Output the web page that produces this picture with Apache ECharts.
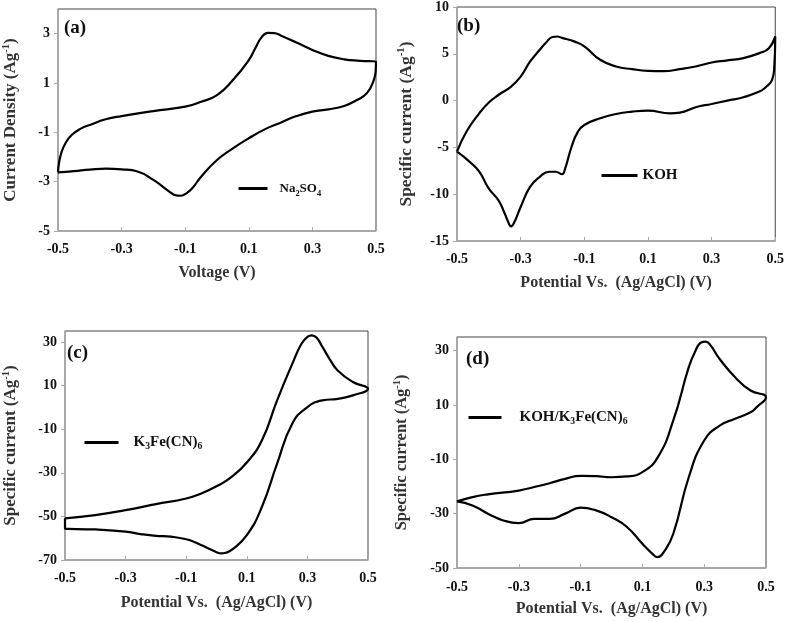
<!DOCTYPE html>
<html><head><meta charset="utf-8">
<script src="https://cdn.jsdelivr.net/npm/echarts@6/dist/echarts.min.js"></script>
<style>html,body{margin:0;padding:0;background:#fff}#c{width:787px;height:622px}</style>
</head><body><div id="c"></div>
<script>
// ---- tick labels ----
const xTicks = [-0.5, -0.3, -0.1, 0.1, 0.3, 0.5];
const yTicksA = [-5, -3, -1, 1, 3];
const yTicksB = [-15, -10, -5, 0, 5, 10];
const yTicksC = [-70, -50, -30, -10, 10, 30];
const yTicksD = [-50, -30, -10, 10, 30];

// ---- (a) Na2SO4 ----
const potA = [-0.5,-0.497,-0.49,-0.477,-0.457,-0.427,-0.4,-0.35,-0.3,-0.2,-0.1,-0.05,0,0.05,0.1,0.12,0.14,0.16,0.18,0.2,0.25,0.3,0.35,0.4,0.45,0.5,
  0.499,0.493,0.472,0.44,0.4,0.35,0.3,0.25,0.2,0.15,0.1,0.05,0,-0.05,-0.08,-0.1,-0.115,-0.13,-0.15,-0.2,-0.25,-0.3,-0.35,-0.4,-0.45,-0.5];
const curA = [-2.62,-2.26,-1.85,-1.45,-1.11,-0.84,-0.7,-0.47,-0.34,-0.14,0.04,0.24,0.51,1.12,1.93,2.4,2.85,3.03,3.02,2.93,2.64,2.34,2.1,1.96,1.9,1.86,
  1.5,1.12,0.6,0.31,0.07,-0.07,-0.16,-0.34,-0.61,-0.88,-1.24,-1.65,-2.12,-2.8,-3.3,-3.5,-3.57,-3.55,-3.4,-2.93,-2.59,-2.5,-2.47,-2.51,-2.57,-2.62];

// ---- (b) KOH ----
const potB = [-0.5,-0.47,-0.43,-0.4,-0.37,-0.33,-0.3,-0.27,-0.24,-0.22,-0.2,-0.185,-0.17,-0.13,-0.1,-0.05,0,0.05,0.1,0.15,0.2,0.25,0.3,0.35,0.4,0.45,0.48,0.5,
  0.497,0.49,0.47,0.45,0.4,0.35,0.3,0.25,0.2,0.17,0.1,0.05,0,-0.05,-0.1,-0.12,-0.14,-0.16,-0.17,-0.19,-0.21,-0.24,-0.27,-0.3,-0.32,-0.33,-0.34,-0.35,-0.37,-0.4,-0.43,-0.46,-0.5];
const curB = [-5.46,-3.3,-1.36,-0.2,0.6,1.5,2.57,4.18,5.43,6.2,6.8,6.85,6.7,6.3,5.8,4.36,3.64,3.36,3.18,3.14,3.36,3.64,4.07,4.3,4.54,5.07,5.6,6.86,
  3.64,2.21,1.43,0.96,0.36,0,-0.36,-0.71,-1.29,-1.36,-1.07,-1.18,-1.43,-1.89,-2.6,-3.32,-4.93,-7.25,-7.86,-7.6,-7.6,-8.14,-9.2,-11.36,-13,-13.43,-12.9,-12.07,-10.64,-9.4,-7.6,-6.54,-5.46];

// ---- (c) K3Fe(CN)6 ----
const potC = [-0.5,-0.4,-0.3,-0.2,-0.1,-0.05,0,0.05,0.1,0.15,0.2,0.25,0.28,0.3,0.315,0.33,0.35,0.375,0.4,0.45,0.5,
  0.45,0.4,0.35,0.3,0.25,0.2,0.15,0.1,0.05,0.03,0.015,0,-0.03,-0.06,-0.1,-0.15,-0.2,-0.25,-0.3,-0.4,-0.5,-0.5];
const curC = [-50.9,-49.4,-47.1,-44.4,-41.8,-39.5,-36.2,-31.9,-25.3,-15.1,3.2,19.9,29,32.3,33,32,27.6,21.8,16.9,11.6,8.5,
  5.5,3.9,3.2,0.1,-7.5,-25.8,-45.6,-58.6,-65.4,-66.7,-67,-66.4,-64.5,-62.5,-60.5,-59.3,-58.9,-58.1,-57,-56,-55.5,-50.9];

// ---- (d) KOH/K3Fe(CN)6 ----
const potD = [-0.5,-0.45,-0.4,-0.3,-0.25,-0.2,-0.15,-0.1,-0.05,0,0.05,0.1,0.15,0.2,0.25,0.27,0.29,0.305,0.32,0.35,0.4,0.45,0.5,
  0.47,0.45,0.4,0.35,0.3,0.25,0.2,0.17,0.15,0.13,0.1,0.05,0,-0.05,-0.1,-0.15,-0.2,-0.25,-0.3,-0.35,-0.4,-0.45,-0.5];
const curD = [-25.5,-23.9,-22.9,-21.5,-20.2,-18.8,-17.2,-16.1,-16.2,-16.6,-16.3,-14.7,-9.2,4.3,23.9,29.5,33,33.3,32,26.9,20.2,15.3,12.8,
  9.2,7.3,4.9,2.4,-3.1,-16.6,-37.4,-44,-46,-44.5,-41.1,-34.9,-31.3,-28.8,-27.8,-30,-31.9,-31.9,-33.5,-32.5,-30,-27,-25.5];

const names = ['Na2SO4', 'KOH', 'K3Fe(CN)6', 'KOH/K3Fe(CN)6'];
const pots = [potA, potB, potC, potD];
const curs = [curA, curB, curC, curD];
const yTicks = [yTicksA, yTicksB, yTicksC, yTicksD];
const yMin = [-5, -15, -70, -50];
const yMax = [4, 10, 35, 35];
const panelLabels = ['(a)', '(b)', '(c)', '(d)'];
const xNames = ['Voltage (V)', 'Potential Vs.  (Ag/AgCl) (V)', 'Potential Vs.  (Ag/AgCl) (V)', 'Potential Vs.  (Ag/AgCl) (V)'];
const yNames = ['{n|Current Density (Ag}{sup|-1}{n|)}', '{n|Specific current (Ag}{sup|-1}{n|)}', '{n|Specific current (Ag}{sup|-1}{n|)}', '{n|Specific current (Ag}{sup|-1}{n|)}'];
const legendRich = [
  '{sp|}{t|Na}{sub|2}{t|SO}{sub|4}',
  '{t|KOH}',
  '{sp|}{t|K}{sub|3}{t|Fe(CN)}{sub|6}',
  '{sp|}{t|KOH/K}{sub|3}{t|Fe(CN)}{sub|6}'
];

const F = 'Liberation Serif, Times New Roman, serif';
const grids = [
  {left: 56, top: 9, width: 320, height: 222},
  {left: 457, top: 7, width: 319, height: 234},
  {left: 57, top: 331, width: 311, height: 229},
  {left: 457, top: 337, width: 309, height: 231}
];
const yNameGap = [37, 41, 44, 45];
const yNameSize = [17, 17.5, 17, 16.5];
const xNameGap = [34, 34, 35, 33];
const xLabelMargin = [11, 11, 11, 12];
const titlePos = [[64, 19], [457, 17], [67, 344], [466, 350]];
const legendPos = [
  {left: 237, top: 182, w: 29, sp: 7, fs: 13},
  {left: 600, top: 168, w: 36, sp: 0, fs: 15},
  {left: 83, top: 435, w: 34, sp: 10, fs: 15},
  {left: 467, top: 410, w: 33, sp: 13, fs: 15}
];

const option = {
  animation: false,
  backgroundColor: '#fff',
  color: ['#000'],
  grid: grids.map(g => Object.assign({show: true, borderColor: '#444', borderWidth: 1, backgroundColor: 'transparent', containLabel: false}, g)),
  title: panelLabels.map((t, i) => ({
    text: t, left: titlePos[i][0], top: titlePos[i][1], padding: 0,
    textStyle: {fontFamily: F, fontWeight: 'bold', fontSize: 19, color: '#111'}
  })),
  legend: names.map((n, i) => ({
    data: [n], left: legendPos[i].left, top: legendPos[i].top, padding: 0,
    itemWidth: legendPos[i].w, itemHeight: 12, selectedMode: false,
    formatter: () => legendRich[i],
    itemStyle: {opacity: 0},
    textStyle: {
      fontFamily: F, fontWeight: 'bold', fontSize: legendPos[i].fs, color: '#111',
      rich: {
        sp: {width: legendPos[i].sp},
        t: {fontFamily: F, fontWeight: 'bold', fontSize: legendPos[i].fs, color: '#111', lineHeight: 18},
        sub: {fontFamily: F, fontWeight: 'bold', fontSize: legendPos[i].fs * 0.65, color: '#111', verticalAlign: 'bottom', lineHeight: 18, padding: [0, 0, 0, 0]}
      }
    },
    lineStyle: {width: 3, color: '#000'}
  })),
  xAxis: grids.map((g, i) => ({
    type: 'value', gridIndex: i, min: -0.5, max: 0.5,
    name: xNames[i], nameLocation: 'middle', nameGap: xNameGap[i],
    nameTextStyle: {fontFamily: F, fontWeight: 'bold', fontSize: 16, color: '#333'},
    axisLine: {show: true, onZero: false, lineStyle: {color: '#aaa', width: 1.5}},
    axisTick: {show: true, inside: true, length: 4, customValues: xTicks, lineStyle: {color: '#aaa', width: 1}},
    axisLabel: {customValues: xTicks, margin: xLabelMargin[i], fontFamily: F, fontWeight: 'bold', fontSize: 14, color: '#111',
      formatter: v => String(v)},
    splitLine: {show: false}, z: 3
  })),
  yAxis: grids.map((g, i) => ({
    type: 'value', gridIndex: i, min: yMin[i], max: yMax[i],
    name: yNames[i], nameLocation: 'middle', nameGap: yNameGap[i], nameRotate: 90,
    nameTextStyle: {fontFamily: F, fontWeight: 'bold', fontSize: yNameSize[i], color: '#333',
      rich: {
        n: {fontFamily: F, fontWeight: 'bold', fontSize: yNameSize[i], color: '#333', lineHeight: 20},
        sup: {fontFamily: F, fontWeight: 'bold', fontSize: yNameSize[i] * 0.62, color: '#333', verticalAlign: 'top', lineHeight: 20}
      }},
    axisLine: {show: true, onZero: false, lineStyle: {color: '#aaa', width: 1.5}},
    axisTick: {show: true, inside: false, length: 4, customValues: yTicks[i], lineStyle: {color: '#aaa', width: 1}},
    axisLabel: {customValues: yTicks[i], margin: 8, fontFamily: F, fontWeight: 'bold', fontSize: 14, color: '#111'},
    splitLine: {show: false}, z: 3
  })),
  series: names.map((n, i) => ({
    name: n, type: 'line', xAxisIndex: i, yAxisIndex: i,
    data: pots[i].map((p, k) => [p, curs[i][k]]),
    showSymbol: false, symbol: 'none', smooth: 0.5,
    itemStyle: {color: '#000'},
    lineStyle: {color: '#000', width: 2.2}, z: 5
  }))
};
const chart = echarts.init(document.getElementById('c'), null, {renderer: 'canvas'});
chart.setOption(option);
</script>
</body></html>
